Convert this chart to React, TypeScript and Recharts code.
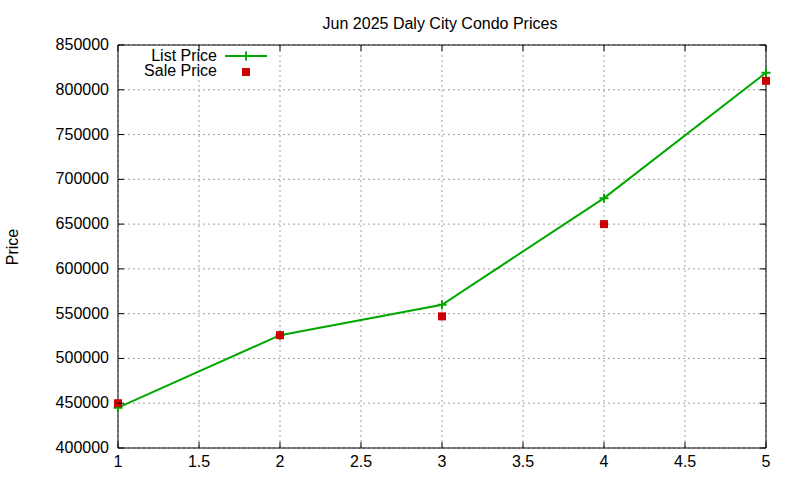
import React from 'react';
import { ComposedChart, Line, Scatter, XAxis, YAxis, CartesianGrid, ReferenceArea } from 'recharts';

const xValues = [1, 2, 3, 4, 5];
const listPrices = [445000, 526000, 560000, 679000, 819000];
const salePrices = [450000, 526000, 547000, 650000, 810000];
const xTicks = [1, 1.5, 2, 2.5, 3, 3.5, 4, 4.5, 5];
const yTicks = [400000, 450000, 500000, 550000, 600000, 650000, 700000, 750000, 800000, 850000];
const title = 'Jun 2025 Daly City Condo Prices';
const yLabel = 'Price';
const listName = 'List Price';
const saleName = 'Sale Price';

const data = xValues.map((x, i) => ({ x, list: listPrices[i], sale: salePrices[i] }));

const FONT = '"Liberation Sans", Arial, sans-serif';
const W = 800;
const H = 480;
const PLOT_LEFT = 118;
const PLOT_RIGHT = 766;
const PLOT_TOP = 45;
const PLOT_BOTTOM = 448;
const TICK = 6;
const GREEN = '#00a800';
const RED = '#cc0000';

const YTick = (props: any) => {
  const { y, payload } = props;
  return (
    <g>
      <text x={PLOT_LEFT - 9} y={y + 5} textAnchor="end" fontFamily={FONT} fontSize={16} fill="#000">
        {payload.value}
      </text>
      <line x1={PLOT_LEFT} x2={PLOT_LEFT + TICK} y1={y} y2={y} stroke="#000" strokeWidth={1} />
      <line x1={PLOT_RIGHT - TICK} x2={PLOT_RIGHT} y1={y} y2={y} stroke="#000" strokeWidth={1} />
    </g>
  );
};

const XTick = (props: any) => {
  const { x, payload } = props;
  return (
    <g>
      <text x={x} y={467} textAnchor="middle" fontFamily={FONT} fontSize={16} fill="#000">
        {payload.value}
      </text>
      <line x1={x} x2={x} y1={PLOT_BOTTOM} y2={PLOT_BOTTOM - TICK} stroke="#000" strokeWidth={1} />
      <line x1={x} x2={x} y1={PLOT_TOP} y2={PLOT_TOP + TICK} stroke="#000" strokeWidth={1} />
    </g>
  );
};

const PlusDot = (props: any) => {
  const { cx, cy, index } = props;
  if (cx == null || cy == null) return <g key={`p-${index}`} />;
  return (
    <path
      key={`p-${index}`}
      d={`M${cx - 4.5},${cy}H${cx + 4.5}M${cx},${cy - 4.5}V${cy + 4.5}`}
      stroke={GREEN}
      strokeWidth={2}
      fill="none"
    />
  );
};

const SquareDot = (props: any) => {
  const { cx, cy } = props;
  return <rect x={cx - 4} y={cy - 4} width={8} height={8} fill={RED} />;
};

export default function App() {
  return (
    <div style={{ position: 'absolute', left: 0, top: 0, width: W, height: H, background: '#fff' }}>
      <ComposedChart
        width={W}
        height={H}
        data={data}
        margin={{ top: PLOT_TOP, right: W - PLOT_RIGHT, bottom: 0, left: 0 }}
      >
        <CartesianGrid stroke="#a0a0a0" strokeDasharray="2 3" strokeWidth={1} />
        <XAxis
          dataKey="x"
          type="number"
          domain={[1, 5]}
          ticks={xTicks}
          height={H - PLOT_BOTTOM}
          axisLine={false}
          tickLine={false}
          tick={<XTick />}
          interval={0}
        />
        <YAxis
          type="number"
          domain={[400000, 850000]}
          ticks={yTicks}
          width={PLOT_LEFT}
          axisLine={false}
          tickLine={false}
          tick={<YTick />}
          interval={0}
        />
        <ReferenceArea
          x1={1}
          x2={5}
          y1={400000}
          y2={850000}
          fill="none"
          fillOpacity={0}
          stroke="#000"
          strokeWidth={1}
          strokeOpacity={1}
        />
        <Line
          dataKey="list"
          name={listName}
          stroke={GREEN}
          strokeWidth={2}
          dot={<PlusDot />}
          activeDot={false}
          isAnimationActive={false}
          type="linear"
        />
        <Scatter dataKey="sale" name={saleName} fill={RED} shape={<SquareDot />} isAnimationActive={false} />
      </ComposedChart>
      <svg
        width={W}
        height={H}
        style={{ position: 'absolute', left: 0, top: 0, pointerEvents: 'none' }}
      >
        <text x={440} y={29} textAnchor="middle" fontFamily={FONT} fontSize={16} fill="#000">
          {title}
        </text>
        <text
          transform="translate(18,247) rotate(-90)"
          textAnchor="middle"
          fontFamily={FONT}
          fontSize={16}
          fill="#000"
        >
          {yLabel}
        </text>
        <text x={217} y={61} textAnchor="end" fontFamily={FONT} fontSize={16} fill="#000">
          {listName}
        </text>
        <line x1={225} x2={267} y1={56} y2={56} stroke={GREEN} strokeWidth={2} />
        <path d="M241.5,56H250.5M246,51.5V60.5" stroke={GREEN} strokeWidth={2} />
        <text x={217} y={76} textAnchor="end" fontFamily={FONT} fontSize={16} fill="#000">
          {saleName}
        </text>
        <rect x={242} y={68} width={8} height={8} fill={RED} />
      </svg>
    </div>
  );
}
